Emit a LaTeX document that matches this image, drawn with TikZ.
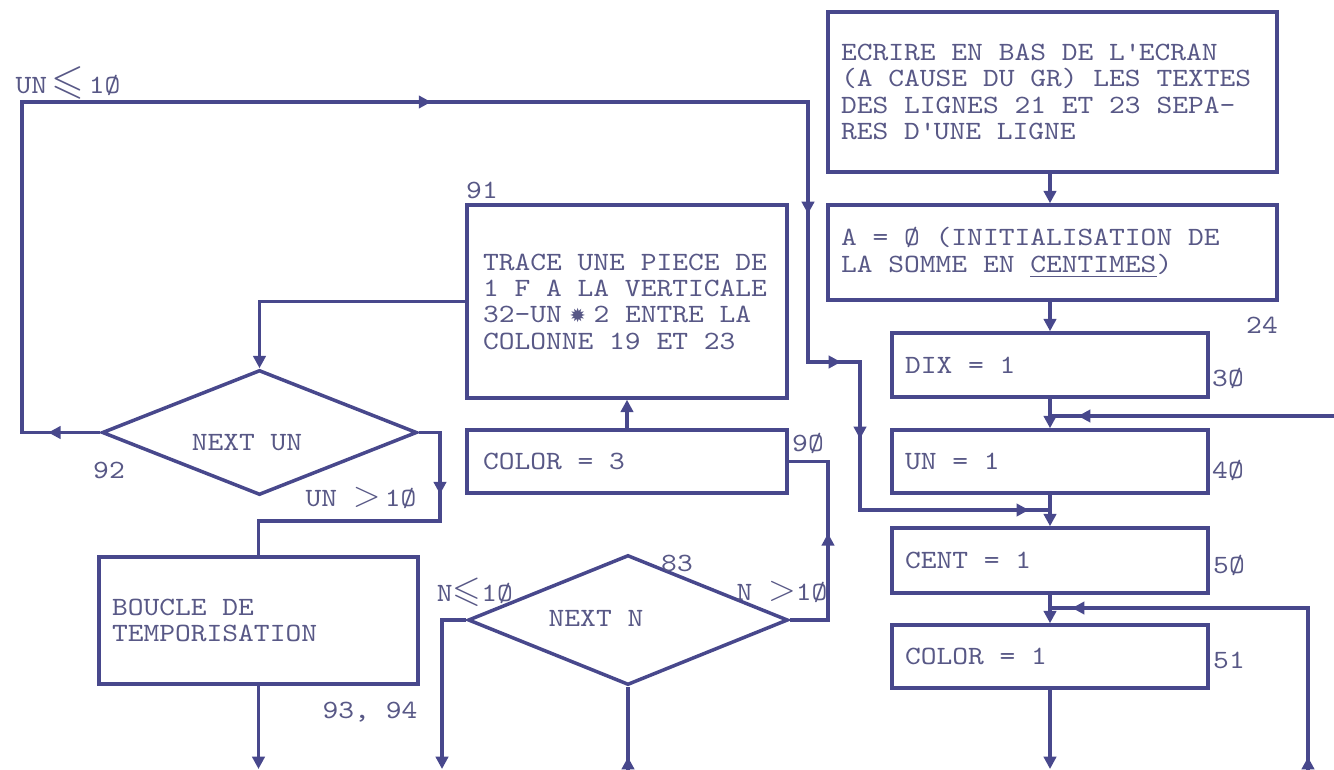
\documentclass[tikz,border=0pt]{standalone}
\usepackage{fontspec}
\usepackage{amssymb}
\usetikzlibrary{arrows.meta,shapes.geometric,decorations.markings}
\newfontfamily\cour{lmmono10-regular.otf}[FakeStretch=1.14]
\newfontfamily\djv{DejaVu Sans}
\definecolor{ink}{RGB}{72,72,140}
\definecolor{txt}{RGB}{88,88,134}
\newcommand{\bigsym}[1]{{\fontsize{21}{21}\selectfont$#1$}}
\newcommand{\hugesym}[1]{{\fontsize{24}{24}\selectfont$#1$}}
\tikzset{
  line/.style={draw=ink,line width=2pt},
  ar/.style={-{Triangle[length=7pt,width=7pt]}},
  am/.style={postaction={decorate,decoration={markings,mark=at position #1 with {\arrow{Triangle[length=7pt,width=7pt]}}}}},
  box/.style={draw=ink,line width=2pt,rectangle,align=flush left,inner xsep=0.26cm,inner ysep=0pt,text=txt,font={\cour\fontsize{15}{15}\selectfont}},
  dia/.style={draw=ink,line width=2pt,diamond,inner sep=0pt},
  lab/.style={text=txt,inner sep=0pt,font={\cour\fontsize{15}{15}\selectfont}}
}
\begin{document}
\begin{tikzpicture}[x=0.02cm,y=-0.02cm]
\useasboundingbox (0,0) rectangle (1334,770);
% right column
\node[box,text width=8.46cm,minimum height=3.2cm] (ecr) at (1052.5,92)
  {ECRIRE EN BAS DE L\textquotesingle ECRAN\\(A CAUSE DU GR) LES TEXTES\\DES LIGNES 21 ET 23 SEPA-\\RES D\textquotesingle UNE LIGNE};
\node[box,text width=8.46cm,minimum height=1.9cm] (init) at (1052.5,252.5)
  {A = Ø (INITIALISATION DE\\LA SOMME EN \underline{CENTIMES})};
\node[box,text width=5.8cm,minimum height=1.28cm] (dix) at (1050,365) {DIX = 1};
\node[box,text width=5.8cm,minimum height=1.26cm] (un) at (1050,461.5) {UN = 1};
\node[box,text width=5.8cm,minimum height=1.3cm] (cent) at (1050,560.5) {CENT = 1};
\node[box,text width=5.8cm,minimum height=1.26cm] (col1) at (1050,656.5) {COLOR = 1};
% middle column
\node[box,inner xsep=0.32cm,text width=5.76cm,minimum height=3.86cm] (tr) at (627,301.5)
  {TRACE UNE PIECE DE\\1 F A LA VERTICALE\\32-UN\makebox[1.2em][c]{\djv\fontsize{11}{11}\selectfont ✹}2 ENTRE LA\\COLONNE 19 ET 23};
\node[box,inner xsep=0.32cm,text width=5.76cm,minimum height=1.26cm] (c3) at (627,461.5) {COLOR = 3};
\node[dia,minimum width=6.4cm,minimum height=2.6cm] (nn) at (628,620) {};
\node[lab] (nnt) at (596,618) {NEXT N};
% left column
\node[dia,minimum width=6.3cm,minimum height=2.5cm] (nu) at (259.5,432.5) {};
\node[lab] (nut) at (247,443) {NEXT UN};
\node[box,text width=5.86cm,minimum height=2.54cm] (bc) at (258.5,620.5) {BOUCLE DE\\TEMPORISATION};
% numbers
\node[lab] (n24) at (1262,325) {24};
\node[lab] (n30) at (1228,378) {3Ø};
\node[lab] (n40) at (1228,470) {4Ø};
\node[lab] (n50) at (1229,565) {5Ø};
\node[lab] (n51) at (1229,660) {51};
\node[lab] (n90) at (808,443) {9Ø};
\node[lab] (n91) at (482,190) {91};
\node[lab] (n92) at (109,470) {92};
\node[lab] (n93) at (370,712) {93, 94};
\node[lab] (n83) at (677,563) {83};
% conditions
\node[lab] (k1) at (68,83) {UN\,\hugesym{\leqslant}\,1Ø};
\node[lab] (k2) at (361,498) {UN\ \bigsym{>}\,1Ø};
\node[lab] (k3) at (475,592) {N\bigsym{\leqslant}1Ø};
\node[lab] (k4) at (782,592) {N\ \bigsym{>}1Ø};
% coordinates
\coordinate (b1) at (1050,769);
\coordinate (r1) at (1334,416);
\coordinate (j1) at (1050,416);
\coordinate (r2) at (1308,770);
\coordinate (j2) at (1050,608);
\coordinate (j3) at (1050,510);
\coordinate (c1) at (440,521);
\coordinate (b2) at (258.5,769);
\coordinate (c2) at (828,461.5);
\coordinate (b3) at (442,769);
\coordinate (b4) at (628,770);
% connectors right column
\draw[line,ar] (ecr.south -| dix.north) -- (init.north -| dix.north);
\draw[line,ar] (init.south -| dix.north) -- (dix.north);
\draw[line,ar] (dix) -- (un);
\draw[line,ar] (un) -- (cent);
\draw[line,ar] (cent) -- (col1);
\draw[line,ar] (col1) -- (b1);
\draw[line,am=5.12cm] (r1) -- (j1);
\draw[line,am=0.26cm,am=7.96cm] (r2) |- (j2);
% big loop
\draw[line,am=1.04cm,am=16.36cm,am=26.14cm,am=29.76cm,am=31.68cm,am=36.48cm]
  (nu.west) -- (22,432.5) -- (22,102) -- (808,102) -- (808,362) -- (860,362) -- (860,510) -- (j3);
% left / middle connectors
\draw[line,ar] (tr.west) -| (nu.north);
\draw[line,am=1.66cm] (nu.east) -| (c1) -| (bc.north);
\draw[line,ar] (bc.south) -- (b2);
\draw[line,ar] (c3.north) -- (tr.south);
\draw[line,am=2.5cm] (nn.east) -| (c2) -- (c3.east);
\draw[line,ar] (nn.west) -| (b3);
\draw[line,am=0.26cm] (b4) -- (nn.south);
\end{tikzpicture}
\end{document}
